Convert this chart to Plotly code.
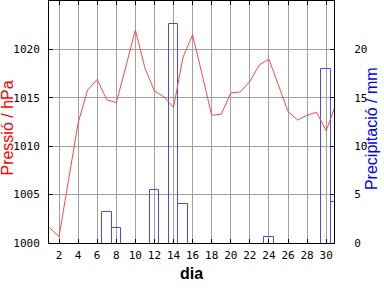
import plotly.graph_objects as go

days = list(range(1, 32))
pressure = [1001.6, 1000.65, 1006.5, 1012.4, 1015.8, 1016.9, 1014.8, 1014.5, 1018.2, 1022.0,
            1018.1, 1015.7, 1015.1, 1014.0, 1019.2, 1021.5, 1017.4, 1013.2, 1013.3, 1015.5,
            1015.6, 1016.7, 1018.4, 1019.0, 1016.3, 1013.6, 1012.7, 1013.2, 1013.5, 1011.6,
            1014.3]
rain_days = [7, 8, 12, 14, 15, 24, 30, 31]
rain_mm = [3.2, 1.6, 5.5, 22.6, 4.0, 0.6, 18.0, 4.2]
x_ticks = list(range(2, 31, 2))

fig = go.Figure()
# bars start slightly below zero so their bottom edge hides under the axis
fig.add_trace(go.Bar(x=rain_days, y=[v + 0.5 for v in rain_mm], base=-0.5, width=1, yaxis="y",
                     marker=dict(color="rgba(255,255,255,0)", line=dict(color="#4848ff", width=1))))
fig.add_trace(go.Scatter(x=days, y=pressure, mode="lines", yaxis="y2",
                         line=dict(color="#ff4848", width=1)))

tickfont = dict(family="DejaVu Sans Mono", size=11, color="black")
fig.update_layout(
    width=384, height=288,
    margin=dict(l=49, r=50, t=1, b=45),
    paper_bgcolor="white", plot_bgcolor="white",
    showlegend=False,
    bargap=0,
    xaxis=dict(range=[0.95, 30.82], tickvals=x_ticks, ticks="inside", ticklen=4,
               tickcolor="black", showgrid=True, gridcolor="#a0a0a0", gridwidth=1,
               showline=True, linecolor="black", linewidth=1, mirror="ticks",
               tickfont=tickfont, zeroline=False, ticklabelstandoff=2),
    yaxis=dict(range=[0, 25], tickvals=[0, 5, 10, 15, 20, 25], side="right",
               ticks="inside", ticklen=4, tickcolor="black", showgrid=True,
               gridcolor="#a0a0a0", gridwidth=1, showline=True, linecolor="black",
               linewidth=1, tickfont=tickfont, zeroline=False, ticklabelstandoff=17),
    yaxis2=dict(range=[1000, 1025], tickvals=[1000, 1005, 1010, 1015, 1020, 1025],
                overlaying="y", side="left", ticks="inside", ticklen=4, tickcolor="black",
                showgrid=False, showline=True, linecolor="black", linewidth=1,
                tickfont=tickfont, zeroline=False, ticklabelstandoff=6),
    annotations=[
        dict(text="Pressió / hPa", xref="paper", yref="paper", x=-0.144, y=0.477,
             xanchor="center", yanchor="middle", textangle=-90, showarrow=False,
             font=dict(family="Liberation Sans", size=16, color="red")),
        dict(text="Precipitació / mm", xref="paper", yref="paper", x=1.13, y=0.471,
             xanchor="center", yanchor="middle", textangle=-90, showarrow=False,
             font=dict(family="Liberation Sans", size=16, color="blue")),
        dict(text="<b>dia</b>", xref="paper", yref="paper", x=0.5, y=-0.125,
             xanchor="center", yanchor="middle", showarrow=False,
             font=dict(family="Liberation Sans", size=16, color="black")),
    ],
)
fig.write_html("out.html")
